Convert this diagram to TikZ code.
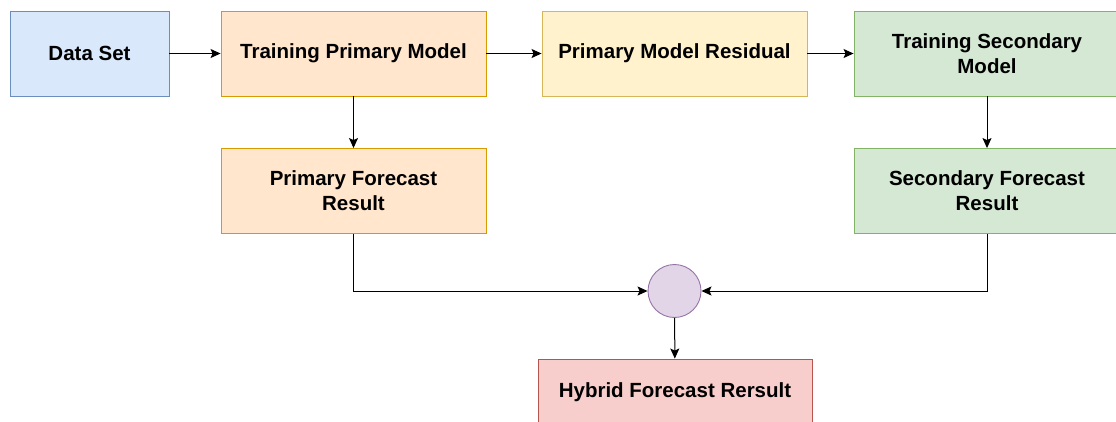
\documentclass[tikz,border=0pt]{standalone}
\usepackage{fontspec}
\setmainfont{Liberation Sans}
\usetikzlibrary{arrows.meta}
\definecolor{blueF}{HTML}{DAE8FC}\definecolor{blueD}{HTML}{6C8EBF}
\definecolor{orangeF}{HTML}{FFE6CC}\definecolor{orangeD}{HTML}{D79B00}
\definecolor{yellowF}{HTML}{FFF2CC}\definecolor{yellowD}{HTML}{D6B656}
\definecolor{greenF}{HTML}{D5E8D4}\definecolor{greenD}{HTML}{82B366}
\definecolor{purpleF}{HTML}{E1D5E7}\definecolor{purpleD}{HTML}{9673A6}
\definecolor{redF}{HTML}{F8CECC}\definecolor{redD}{HTML}{B85450}
\begin{document}
\begin{tikzpicture}[x=1pt,y=-1pt,
  box/.style={rectangle,draw,line width=0.9pt,minimum height=85pt,minimum width=265pt,
    align=center,font=\fontsize{20.5}{25}\selectfont\bfseries,inner sep=0pt},
  arr/.style={-{Stealth[length=10pt,width=9pt,inset=2pt]},line width=1pt}]
\useasboundingbox (0,0) rectangle (1116,421);
\node [box,fill=blueF,draw=blueD,minimum width=159pt] (data) at (89.5,53.5) {Data Set};
\node [box,fill=orangeF,draw=orangeD] (trainP) at (353.5,53.5) {Training Primary Model};
\node [box,fill=yellowF,draw=yellowD] (resid) at (674.5,53.5) {Primary Model Residual};
\node [box,fill=greenF,draw=greenD,minimum width=266pt] (trainS) at (987,53.5) {Training Secondary\\Model};
\node [box,fill=orangeF,draw=orangeD] (primF) at (353.5,191) {Primary Forecast\\Result};
\node [box,fill=greenF,draw=greenD,minimum width=266pt] (secF) at (987,191) {Secondary Forecast\\Result};
\node [circle,draw=purpleD,fill=purpleF,line width=0.9pt,minimum size=53pt,inner sep=0pt] (mix) at (674.5,291) {};
\node [box,fill=redF,draw=redD,minimum width=274pt,minimum height=66pt] (hybrid) at (675,392) {Hybrid Forecast Rersult};
\draw [arr] (data) -- (trainP);
\draw [arr] (trainP) -- (resid);
\draw [arr] (resid) -- (trainS);
\draw [arr] (trainP) -- (primF);
\draw [arr] (trainS) -- (secF);
\draw [arr] (primF.south) |- (mix.west);
\draw [arr] (secF.south) |- (mix.east);
\draw [arr] (mix) -- (hybrid);
\end{tikzpicture}
\end{document}
